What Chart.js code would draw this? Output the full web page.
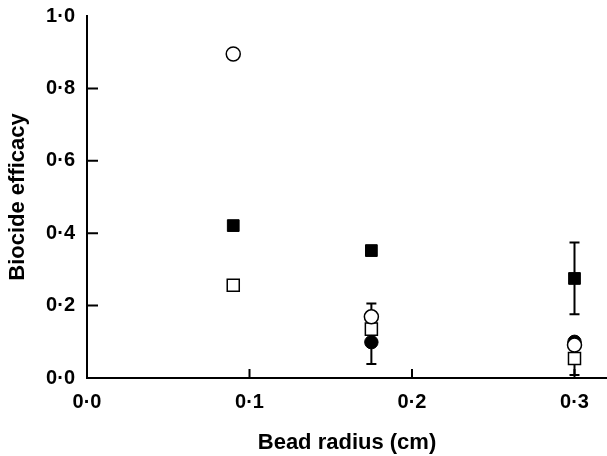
<!DOCTYPE html>
<html>
<head>
<meta charset="utf-8">
<script src="https://cdn.jsdelivr.net/npm/chart.js@4"></script>
<style>
  body { margin: 0; background: #fff; }
  #wrap { width: 607px; height: 456px; }
</style>
</head>
<body>
<div id="wrap"><canvas id="chart-0"></canvas></div>
<script>
// bead radius (cm) where each series was measured
const radius = [0.09, 0.175, 0.3]

// biocide efficacy values, one array per symbol
const openCircle = [0.895, 0.169, 0.091]
const filledSquare = [0.421, 0.352, 0.275]
const openSquare = [0.256, 0.135, 0.054]
const filledCircle = [null, 0.099, 0.100]

// error bar half-widths (0 = none drawn)
const openCircleErr = [0, 0.037, 0]
const filledSquareErr = [0, 0, 0.099]
const openSquareErr = [0, 0, 0.046]
const filledCircleErr = [0, 0.06, 0]

const xTicks = [0, 0.1, 0.2, 0.3]
const yTicks = [0, 0.2, 0.4, 0.6, 0.8, 1.0]

const FONT = '"Liberation Sans", Arial, Helvetica, sans-serif'

function toPoints(ys, errs) {
  return radius.map((x, i) => ({ x, y: ys[i], err: errs[i] })).filter(p => p.y !== null)
}

// 0.1 -> 0·1
const dotLabel = v => Number(v).toFixed(1).replace('.', '·')

// error bars, drawn behind the markers
const errorBars = {
  id: 'errorBars',
  beforeDatasetsDraw(chart) {
    const { ctx, scales: { x, y } } = chart
    ctx.save()
    ctx.strokeStyle = '#000'
    ctx.lineWidth = 2
    chart.data.datasets.forEach(ds => {
      ds.data.forEach(p => {
        if (!p.err) return
        const px = x.getPixelForValue(p.x)
        const top = y.getPixelForValue(p.y + p.err)
        const bot = y.getPixelForValue(p.y - p.err)
        ctx.beginPath()
        ctx.moveTo(px, top); ctx.lineTo(px, bot)
        ctx.moveTo(px - 5, top); ctx.lineTo(px + 5, top)
        ctx.moveTo(px - 5, bot); ctx.lineTo(px + 5, bot)
        ctx.stroke()
      })
    })
    ctx.restore()
  }
}

// tick marks pointing into the plot
const innerTicks = {
  id: 'innerTicks',
  afterDraw(chart) {
    const { ctx, scales: { x, y } } = chart
    ctx.save()
    ctx.strokeStyle = '#000'
    ctx.lineWidth = 2
    ctx.beginPath()
    yTicks.slice(1, -1).forEach(v => {
      const py = y.getPixelForValue(v)
      ctx.moveTo(x.left, py); ctx.lineTo(x.left + 11, py)
    })
    xTicks.slice(1).forEach(v => {
      const px = x.getPixelForValue(v)
      ctx.moveTo(px, y.bottom); ctx.lineTo(px, y.bottom - 9)
    })
    ctx.stroke()
    ctx.restore()
  }
}

const config = {
  type: 'scatter',
  data: {
    datasets: [
      {
        label: 'open square',
        data: toPoints(openSquare, openSquareErr),
        pointStyle: 'rect',
        pointRadius: 8.5,
        backgroundColor: '#fff',
        borderColor: '#000',
        borderWidth: 1.5,
        order: 3
      },
      {
        label: 'filled circle',
        data: toPoints(filledCircle, filledCircleErr),
        pointStyle: 'circle',
        pointRadius: 6.7,
        backgroundColor: '#000',
        borderColor: '#000',
        borderWidth: 1,
        order: 2
      },
      {
        label: 'open circle',
        data: toPoints(openCircle, openCircleErr),
        pointStyle: 'circle',
        pointRadius: 7,
        backgroundColor: '#fff',
        borderColor: '#000',
        borderWidth: 1.5,
        order: 1
      },
      {
        label: 'filled square',
        data: toPoints(filledSquare, filledSquareErr),
        pointStyle: 'rect',
        pointRadius: 8.3,
        backgroundColor: '#000',
        borderColor: '#000',
        borderWidth: 1,
        order: 0
      }
    ]
  },
  options: {
    responsive: true,
    maintainAspectRatio: false,
    animation: false,
    layout: { autoPadding: false, padding: { top: 16, right: 0, left: 0, bottom: 0 } },
    plugins: {
      legend: { display: false },
      tooltip: { enabled: false }
    },
    scales: {
      x: {
        type: 'linear',
        min: 0,
        max: 0.32,
        afterFit: s => {
          s.height = 78
          s.paddingLeft = 0
          s.paddingRight = 0
        },
        afterBuildTicks: s => { s.ticks = xTicks.map(v => ({ value: v })) },
        grid: { display: false, drawTicks: false, tickLength: 0 },
        border: { display: true, color: '#000', width: 2 },
        ticks: {
          padding: 12,
          color: '#000',
          font: { family: FONT, size: 20, weight: 'bold' },
          callback: dotLabel
        },
        title: {
          display: true,
          text: 'Bead radius (cm)',
          color: '#000',
          font: { family: FONT, size: 22, weight: 'bold' },
          padding: { top: 0, bottom: 0 }
        }
      },
      y: {
        min: 0,
        max: 1,
        afterFit: s => {
          s.width = 87
          s.paddingTop = 0
          s.paddingBottom = 0
        },
        afterBuildTicks: s => { s.ticks = yTicks.map(v => ({ value: v })) },
        grid: { display: false, drawTicks: false, tickLength: 0 },
        border: { display: true, color: '#000', width: 2 },
        ticks: {
          padding: 12,
          color: '#000',
          font: { family: FONT, size: 20, weight: 'bold' },
          callback: dotLabel
        },
        title: {
          display: true,
          text: 'Biocide efficacy',
          color: '#000',
          font: { family: FONT, size: 22, weight: 'bold' },
          padding: { top: 5, bottom: 0 }
        }
      }
    }
  },
  plugins: [errorBars, innerTicks]
}

new Chart(document.getElementById('chart-0'), config)
</script>
</body>
</html>
